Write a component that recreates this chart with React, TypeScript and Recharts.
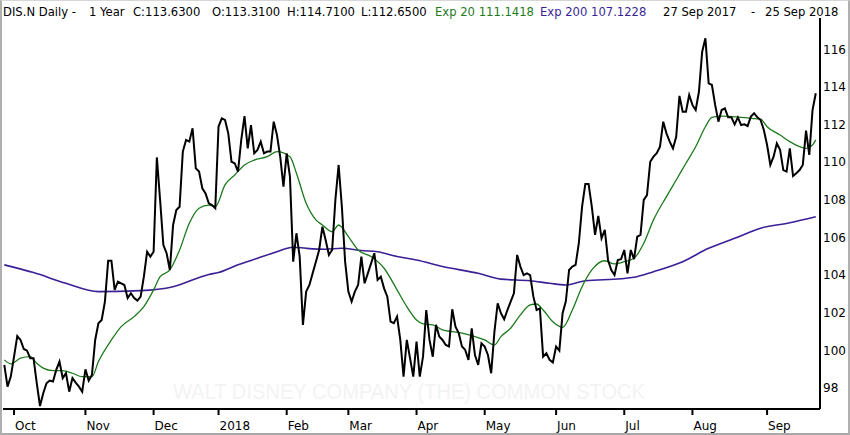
import { Line, LineChart, XAxis, YAxis } from "recharts";

// daily closes, one per trading day, 27 Sep 2017 .. 25 Sep 2018
const closes = [
  99.22, 98.07, 98.6, 99.66, 100.76, 100.55, 100.07, 99.98, 99.58, 99.58,
  98.25, 97.04, 97.72, 98.25, 98.39, 98.34, 98.96, 99.4, 98.52, 98.78,
  97.8, 98.52, 98.28, 98.07, 97.8, 98.99, 98.39, 98.69, 100.55, 101.44,
  101.61, 102.59, 104.76, 104.76, 103.21, 103.65, 103.56, 103.47, 102.77, 103.03,
  102.77, 102.64, 102.85, 103.91, 105.24, 104.98, 105.24, 110.25, 107.99, 105.6,
  105.16, 104.27, 106.66, 107.46, 107.63, 110.56, 111.18, 111.09, 111.8, 109.67,
  109.5, 108.61, 108.34, 107.81, 107.72, 107.55, 111.89, 112.33, 112.24, 111.53,
  110.02, 109.93, 109.5, 111.18, 112.45, 110.73, 111.97, 110.47, 110.65, 111.09,
  110.47, 110.56, 110.56, 112.15, 111.44, 110.29, 108.7, 110.47, 109.23, 104.71,
  106.22, 104.98, 101.35, 103.12, 103.47, 104.09, 104.71, 105.33, 106.57, 105.86,
  105.07, 105.33, 107.99, 109.85, 107.63, 104.71, 103.12, 102.59, 103.12, 103.47,
  104.98, 103.56, 104.09, 104.62, 105.16, 103.74, 103.91, 103.29, 102.85, 101.52,
  101.44, 101.79, 100.55, 98.6, 100.55, 99.58, 98.6, 100.46, 98.6, 99.66,
  102.14, 100.55, 99.66, 101.35, 100.73, 100.55, 100.28, 100.2, 102.18, 101.26,
  100.91, 100.2, 100.02, 99.49, 101.17, 99.75, 99.22, 100.37, 100.2, 99.75,
  98.78, 100.99, 102.5, 101.97, 101.65, 102.14, 102.59, 103.03, 105.07, 104.45,
  104.0, 104.09, 104.0, 102.85, 102.14, 102.23, 99.66, 99.84, 99.49, 99.35,
  100.2, 99.98, 101.97, 102.6, 104.27, 104.45, 104.54, 105.69, 107.63, 108.84,
  108.84, 107.63, 106.13, 107.14, 105.95, 106.4, 104.8, 104.27, 104.0, 104.8,
  104.84, 105.33, 104.09, 105.33, 104.84, 106.04, 106.13, 107.99, 108.25, 110.02,
  110.29, 110.47, 110.82, 112.15, 111.53, 111.09, 110.73, 111.35, 113.52, 112.68,
  112.68, 113.57, 113.04, 112.77, 113.74, 115.87, 116.58, 114.19, 114.1, 113.04,
  112.15, 112.77, 112.86, 112.38, 112.38, 112.01, 112.38, 111.97, 112.01, 111.92,
  112.42, 112.6, 112.38, 112.24, 111.71, 110.91, 109.85, 110.29, 111.0, 110.65,
  109.58, 109.5, 110.73, 109.26, 109.41, 109.58, 109.85, 111.67, 110.38, 112.77,
  113.66,
];

// Exp 20 (green), read at these trading days
const ema20Days = [
  0, 2, 5, 8, 10, 12, 15, 18, 21, 24, 27, 29, 33, 36, 40, 43, 46, 48, 51, 54,
  57, 60, 63, 65, 68, 71, 74, 77, 81, 84, 88, 90, 93, 96, 98, 101, 103, 106, 109, 113,
  117, 121, 124, 127, 129, 132, 135, 138, 141, 145, 148, 151, 153, 156, 159, 162, 164, 166, 169, 172,
  175, 178, 181, 185, 188, 191, 194, 197, 200, 204, 207, 210, 213, 216, 218, 221, 224, 227, 230, 233,
  235, 239, 242, 245, 247, 249, 250,
];
const ema20 = [
  99.49, 99.28, 99.58, 99.66, 99.31, 99.05, 98.92, 98.92, 98.78, 98.6, 98.6, 99.4, 100.55, 101.26, 101.79, 102.32, 103.21, 103.91, 104.27, 105.33,
  106.75, 107.55, 107.72, 107.63, 108.79, 109.32, 109.85, 110.11, 110.29, 110.56, 110.29, 109.41, 107.81, 106.93, 106.66, 106.3, 106.66, 106.04, 105.33, 104.98,
  104.36, 103.21, 102.32, 101.61, 101.4, 101.35, 101.08, 100.99, 100.91, 100.73, 100.55, 100.28, 100.73, 101.17, 101.88, 102.41, 102.46, 102.14, 101.52, 101.22,
  102.14, 103.38, 104.27, 104.76, 104.59, 104.71, 104.89, 105.69, 106.93, 108.17, 109.05, 109.94, 110.82, 111.88, 112.38, 112.45, 112.42, 112.38, 112.33, 112.28,
  111.88, 111.44, 111.09, 110.82, 110.73, 110.91, 111.18,
];

// Exp 200 (purple)
const ema200Days = [
  0, 9, 19, 29, 42, 52, 63, 66, 72, 78, 84, 89, 93, 99, 104, 110, 115, 121, 127, 135,
  146, 153, 162, 168, 173, 179, 190, 194, 200, 209, 217, 225, 233, 242, 250,
];
const ema200 = [
  104.54, 104.13, 103.56, 103.12, 103.17, 103.38, 104.03, 104.13, 104.54, 104.89, 105.24, 105.48, 105.42, 105.37, 105.42, 105.3, 105.24, 104.98, 104.8, 104.45,
  104.09, 103.78, 103.7, 103.56, 103.47, 103.7, 103.8, 103.88, 104.18, 104.71, 105.42, 105.95, 106.49, 106.78, 107.1,
];

const monthTicks = [3, 25, 46, 66, 87, 106, 127, 148, 170, 191, 212, 235];
const monthLabels = ["Oct", "Nov", "Dec", "2018", "Feb", "Mar", "Apr", "May", "Jun", "Jul", "Aug", "Sep"];
const priceTicks = [98, 100, 102, 104, 106, 108, 110, 112, 114, 116];

const priceData = closes.map((c, d) => ({ d, c }));
const ema20Data = ema20Days.map((d, i) => ({ d, v: ema20[i] }));
const ema200Data = ema200Days.map((d, i) => ({ d, v: ema200[i] }));

const FONT = "DejaVu Sans, Verdana, sans-serif";
const GREEN = "#1c7a1c";
const PURPLE = "#3a1f96";

function MonthTick(props: any) {
  const { x, y, payload } = props;
  const label = monthLabels[monthTicks.indexOf(payload.value)];
  return (
    <text x={x + 1} y={y} dy="0.71em" textAnchor="start" fontSize={12} fontFamily={FONT} fill="#000">
      {label}
    </text>
  );
}

function PriceTick(props: any) {
  const { x, y, payload } = props;
  return (
    <text x={x} y={y} dy="0.36em" textAnchor="start" fontSize={12} fontFamily={FONT} fill="#000">
      {payload.value}
    </text>
  );
}

const header: [number, string, string][] = [
  [3, "DIS.N Daily -", "#000"],
  [89, "1 Year", "#000"],
  [133, "C:113.6300", "#000"],
  [212, "O:113.3100", "#000"],
  [287, "H:114.7100", "#000"],
  [361, "L:112.6500", "#000"],
  [435, "Exp 20 111.1418", GREEN],
  [540, "Exp 200 107.1228", PURPLE],
  [663, "27 Sep 2017", "#000"],
  [751, "-", "#000"],
  [765, "25 Sep 2018", "#000"],
];

export default function App() {
  return (
    <div style={{ position: "absolute", left: 0, top: 0, width: 850, height: 435, background: "#fff" }}>
      <svg width={850} height={435} style={{ position: "absolute", left: 0, top: 0 }}>
        <text
          x={409}
          y={399}
          textAnchor="middle"
          fontSize={22}
          fontFamily="Liberation Sans, Arial, sans-serif"
          fill="#f3f3f3"
          textLength={472}
          lengthAdjust="spacingAndGlyphs"
        >
          WALT DISNEY COMPANY (THE) COMMON STOCK
        </text>
        {header.map(([x, t, c]) => (
          <text key={t} x={x} y={16} fontSize={11.6} fontFamily={FONT} fill={c}>
            {t}
          </text>
        ))}
      </svg>
      <div style={{ position: "absolute", left: 0, top: 0 }}>
        <LineChart width={850} height={435} margin={{ top: 18, right: 0, bottom: 0, left: 3 }}>
          <XAxis
            type="number"
            dataKey="d"
            domain={[-0.4, 251.3]}
            ticks={monthTicks}
            allowDataOverflow
            height={26}
            axisLine={{ stroke: "#000", strokeWidth: 2 }}
            tickLine={{ stroke: "#000", strokeWidth: 2 }}
            tickSize={6}
            tickMargin={6}
            tick={<MonthTick />}
            interval={0}
          />
          <YAxis
            orientation="right"
            domain={[96.88, 117.66]}
            ticks={priceTicks}
            allowDataOverflow
            width={30}
            axisLine={{ stroke: "#000", strokeWidth: 2 }}
            tickLine={false}
            tickSize={1}
            tickMargin={2}
            tick={<PriceTick />}
            interval={0}
          />
          <Line
            data={ema200Data}
            dataKey="v"
            type="monotone"
            stroke={PURPLE}
            strokeWidth={1.6}
            dot={false}
            isAnimationActive={false}
          />
          <Line
            data={ema20Data}
            dataKey="v"
            type="monotone"
            stroke={GREEN}
            strokeWidth={1.3}
            dot={false}
            isAnimationActive={false}
          />
          <Line
            data={priceData}
            dataKey="c"
            type="linear"
            stroke="#000"
            strokeWidth={2}
            dot={false}
            isAnimationActive={false}
          />
        </LineChart>
      </div>
      <div
        style={{
          position: "absolute",
          left: 0,
          top: 0,
          width: 850,
          height: 435,
          boxSizing: "border-box",
          borderStyle: "solid",
          borderColor: "#d6d6d6 #b0b0b0 #a8a8a8 #b0b0b0",
          borderWidth: "1px 2px 2px 2px",
          pointerEvents: "none",
        }}
      />
    </div>
  );
}
